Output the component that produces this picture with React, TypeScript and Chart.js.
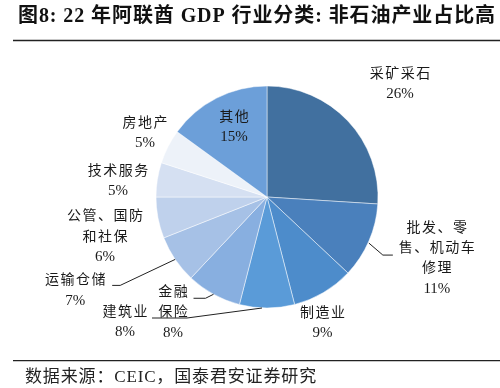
import React, { useEffect, useRef } from "react";
import { Chart, registerables } from "chart.js";
Chart.register(...registerables);

const categories = ["采矿采石", "批发、零售、机动车修理", "制造业", "建筑业", "金融保险", "运输仓储", "公管、国防和社保", "技术服务", "房地产", "其他"];
const shares = [26, 11, 9, 8, 8, 7, 6, 5, 5, 15];
const labelLines = [["采矿采石"], ["批发、零", "售、机动车", "修理"], ["制造业"], ["建筑业"], ["金融", "保险"], ["运输仓储"], ["公管、国防", "和社保"], ["技术服务"], ["房地产"], ["其他"]];
const colors = ["#41709F", "#4A80BC", "#4D8CCB", "#5A9BD8", "#88AFE0", "#A6C1E6", "#BFD1EC", "#D5E0F2", "#EDF2F9", "#6C9FD9"];
const titleText = "图8: 22 年阿联酋 GDP 行业分类: 非石油产业占比高";
const sourceText = "数据来源：CEIC，国泰君安证券研究";

// label placement (offset of first text line from slice's outer-edge midpoint) and leader path
const labelLayout: { dx: number; dy: number; leader?: number[][] }[] = [
  { dx: 52, dy: -47 },
  { dx: 68, dy: -13, leader: [[0, 2], [14, 14], [24, 14]] },
  { dx: -1, dy: 20.5 },
  { dx: -142, dy: 4, leader: [[-5, 0], [-80, 10], [-115, 10]] },
  { dx: -40.5, dy: -2, leader: [[0, 0], [-8, 4], [-20, 4]] },
  { dx: -100, dy: 21, leader: [[0, 0], [-55, 26], [-63, 26]] },
  { dx: -53, dy: -1 },
  { dx: -39.4, dy: -8.6 },
  { dx: -23.1, dy: -23.6 },
  { dx: 17.4, dy: 18.9 },
];

const FONT_FAMILY = "'Liberation Serif', 'Noto Sans CJK SC', serif";

function drawFitted(ctx: CanvasRenderingContext2D, text: string, x: number, y: number, width: number) {
  (ctx as any).letterSpacing = "0px";
  const w0 = ctx.measureText(text).width;
  const n = Array.from(text).length;
  const sp = (width - w0) / n;
  (ctx as any).letterSpacing = sp + "px";
  ctx.fillText(text, x, y);
  (ctx as any).letterSpacing = "0px";
}

const decorPlugin = {
  id: "decor",
  afterDraw(chart: any) {
    const ctx: CanvasRenderingContext2D = chart.ctx;
    ctx.save();
    // title
    ctx.fillStyle = "#111";
    ctx.font = "bold 20px " + FONT_FAMILY;
    ctx.textAlign = "left";
    ctx.textBaseline = "middle";
    drawFitted(ctx, titleText, 18, 17, 478);
    ctx.strokeStyle = "#222";
    ctx.lineWidth = 1.6;
    ctx.beginPath();
    ctx.moveTo(13, 40.5);
    ctx.lineTo(500, 40.5);
    ctx.stroke();
    ctx.lineWidth = 1.3;
    ctx.beginPath();
    ctx.moveTo(13, 360.7);
    ctx.lineTo(500, 360.7);
    ctx.stroke();
    ctx.font = "17px " + FONT_FAMILY;
    ctx.fillStyle = "#222";
    drawFitted(ctx, sourceText, 25, 378, 292);

    // labels
    const meta = chart.getDatasetMeta(0);
    ctx.textAlign = "center";
    ctx.textBaseline = "middle";
    meta.data.forEach((arc: any, i: number) => {
      const { x, y, startAngle, endAngle, outerRadius } = arc.getProps(["x", "y", "startAngle", "endAngle", "outerRadius"], true);
      const mid = (startAngle + endAngle) / 2;
      const ax = x + Math.cos(mid) * outerRadius;
      const ay = y + Math.sin(mid) * outerRadius;
      const lay = labelLayout[i];
      const lines = [...labelLines[i], shares[i] + "%"];
      ctx.fillStyle = "#1a1a1a";
      lines.forEach((t, k) => {
        const isPct = /%/.test(t);
        (ctx as any).letterSpacing = isPct ? "0px" : "1.5px";
        const yy = ay + lay.dy + k * 20.3;
        ctx.font = (isPct ? "15px " : "14px ") + FONT_FAMILY;
        ctx.fillText(t, ax + lay.dx + (isPct ? 0 : 0.75), yy);
      });
      (ctx as any).letterSpacing = "0px";
      if (lay.leader) {
        ctx.strokeStyle = "#222";
        ctx.lineWidth = 1;
        ctx.beginPath();
        lay.leader.forEach((p, k) => {
          if (k === 0) ctx.moveTo(ax + p[0], ay + p[1]);
          else ctx.lineTo(ax + p[0], ay + p[1]);
        });
        ctx.stroke();
      }
    });
    ctx.restore();
  },
};

export default function App() {
  const ref = useRef<HTMLCanvasElement>(null);
  useEffect(() => {
    if (!ref.current) return;
    const chart = new Chart(ref.current, {
      type: "pie",
      data: {
        labels: categories,
        datasets: [
          {
            data: shares,
            backgroundColor: colors,
            borderColor: "rgba(255,255,255,0.8)",
            borderWidth: 0.6,
          },
        ],
      },
      options: {
        responsive: false,
        animation: false,
        devicePixelRatio: 1,
        radius: 111,
        layout: { padding: { left: 150, right: 116, top: 80, bottom: 74 } },
        plugins: {
          legend: { display: false },
          title: { display: false },
          tooltip: { enabled: false },
        },
      } as any,
      plugins: [decorPlugin],
    });
    return () => chart.destroy();
  }, []);
  return (
    <div style={{ position: "absolute", left: 0, top: 0, width: 500, height: 388, background: "#fff" }}>
      <canvas ref={ref} width={500} height={388} style={{ width: 500, height: 388, display: "block" }} />
    </div>
  );
}
